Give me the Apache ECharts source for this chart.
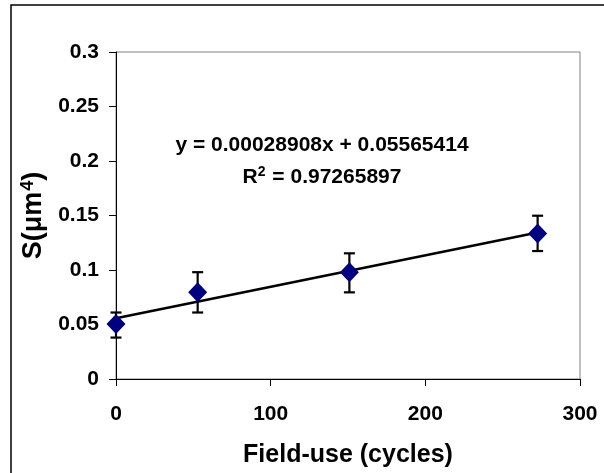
<!DOCTYPE html>
<html>
<head>
<meta charset="utf-8">
<script src="https://cdn.jsdelivr.net/npm/echarts@6/dist/echarts.min.js"></script>
<style>
  html, body { margin: 0; padding: 0; background: #fff; }
  #chart { width: 604px; height: 473px; }
</style>
</head>
<body>
<div id="chart"></div>
<script>
// Field-use cycles and the measured S values with their error ranges
const cycles = [0, 52.8, 150.9, 272.6];
const sValues = [0.0505, 0.0795, 0.0979, 0.1336];
const errLow = [0.038, 0.061, 0.0795, 0.1174];
const errHigh = [0.061, 0.098, 0.1153, 0.1498];

// Linear fit reported on the chart
const slope = 0.00028908;
const intercept = 0.05565414;
const rSquared = 0.97265897;

const xTicks = [0, 100, 200, 300];
const yTicks = [0, 0.05, 0.1, 0.15, 0.2, 0.25, 0.3];

const FONT = '"Liberation Sans", Arial, sans-serif';

const points = cycles.map((x, i) => [x, sValues[i]]);
const errData = cycles.map((x, i) => [x, errLow[i], errHigh[i]]);
const xMin = Math.min(...cycles), xMax = Math.max(...cycles);
const fitLine = [[xMin, slope * xMin + intercept], [xMax, slope * xMax + intercept]];

const chart = echarts.init(document.getElementById('chart'), null, { renderer: 'canvas' });

chart.setOption({
  animation: false,
  backgroundColor: '#ffffff',
  grid: {
    left: 116, right: 24, top: 52, bottom: 94,
    show: true, borderColor: '#808080', borderWidth: 1, backgroundColor: 'transparent'
  },
  xAxis: {
    type: 'value',
    min: xTicks[0], max: xTicks[xTicks.length - 1], interval: 100,
    name: 'Field-use (cycles)',
    nameLocation: 'middle', nameGap: 64,
    nameTextStyle: { fontFamily: FONT, fontWeight: 'bold', fontSize: 25, color: '#000' },
    axisLine: { onZero: false, lineStyle: { color: '#000', width: 1 } },
    axisTick: { show: true, length: 7, lineStyle: { color: '#000' } },
    axisLabel: { fontFamily: FONT, fontWeight: 'bold', fontSize: 21, color: '#000', margin: 25 },
    splitLine: { show: false }
  },
  yAxis: {
    type: 'value',
    min: yTicks[0], max: yTicks[yTicks.length - 1], interval: 0.05,
    name: 'S(μm{sup|4})',
    nameLocation: 'middle', nameGap: 60, nameRotate: 90,
    nameTextStyle: {
      fontFamily: FONT, fontWeight: 'bold', fontSize: 27, color: '#000',
      rich: {
        sup: { fontFamily: FONT, fontWeight: 'bold', fontSize: 18, color: '#000', verticalAlign: 'top', padding: [0, 0, 12, 1] }
      }
    },
    axisLine: { onZero: false, lineStyle: { color: '#000', width: 1 } },
    axisTick: { show: true, length: 7, lineStyle: { color: '#000' } },
    axisLabel: { fontFamily: FONT, fontWeight: 'bold', fontSize: 21, color: '#000', margin: 17 },
    splitLine: { show: false }
  },
  series: [
    {
      name: 'fit',
      type: 'line',
      data: fitLine,
      symbol: 'none',
      lineStyle: { color: '#000', width: 2.5 },
      z: 2
    },
    {
      name: 'error',
      type: 'custom',
      data: errData,
      renderItem: function (params, api) {
        const x = api.value(0);
        const lo = api.coord([x, api.value(1)]);
        const hi = api.coord([x, api.value(2)]);
        const half = 5.5;
        const style = { stroke: '#000', lineWidth: 2.2 };
        return {
          type: 'group',
          children: [
            { type: 'line', shape: { x1: lo[0], y1: lo[1], x2: hi[0], y2: hi[1] }, style },
            { type: 'line', shape: { x1: lo[0] - half, y1: lo[1], x2: lo[0] + half, y2: lo[1] }, style },
            { type: 'line', shape: { x1: hi[0] - half, y1: hi[1], x2: hi[0] + half, y2: hi[1] }, style }
          ]
        };
      },
      z: 3
    },
    {
      name: 'S',
      type: 'scatter',
      data: points,
      symbol: 'diamond',
      symbolSize: [19, 20],
      itemStyle: { color: '#000080', opacity: 1 },
      z: 4
    }
  ],
  graphic: [
    {
      type: 'rect',
      shape: { x: 11, y: 5, width: 800, height: 700 },
      style: { fill: 'none', stroke: '#000', lineWidth: 1.5 },
      silent: true
    },
    {
      type: 'text',
      x: 322, y: 145,
      style: {
        text: 'y = ' + slope.toFixed(8) + 'x + ' + intercept.toFixed(8),
        fontFamily: FONT, fontWeight: 'bold', fontSize: 21, fill: '#000',
        align: 'center', verticalAlign: 'middle'
      }
    },
    {
      type: 'text',
      x: 322, y: 177,
      style: {
        text: 'R{sup|2} = ' + rSquared.toFixed(8),
        fontFamily: FONT, fontWeight: 'bold', fontSize: 21, fill: '#000',
        align: 'center', verticalAlign: 'middle',
        rich: {
          sup: { fontFamily: FONT, fontWeight: 'bold', fontSize: 14, fill: '#000', verticalAlign: 'top', padding: [0, 1, 10, 0] }
        }
      }
    }
  ]
});
</script>
</body>
</html>
